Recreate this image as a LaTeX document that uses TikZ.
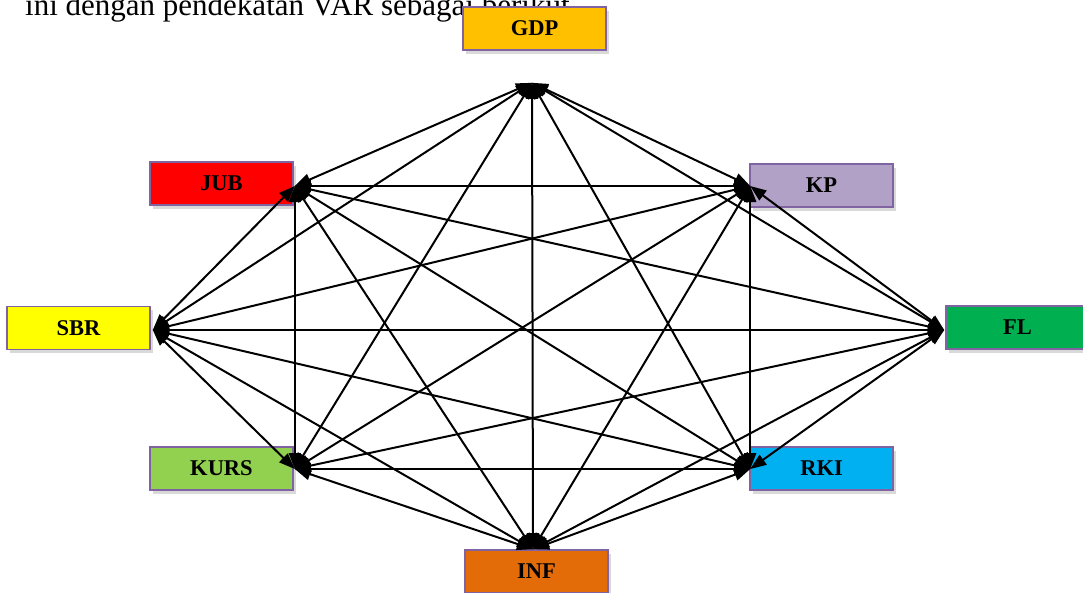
\documentclass[tikz,border=0pt]{standalone}
\usepackage{fontspec}
\setmainfont{Liberation Serif}
\usetikzlibrary{arrows.meta,calc,shadows}
\definecolor{boxline}{HTML}{8064A2}
\definecolor{gdpcol}{HTML}{FFC000}
\definecolor{jubcol}{HTML}{FF0000}
\definecolor{kpcol}{HTML}{B2A1C7}
\definecolor{sbrcol}{HTML}{FFFF00}
\definecolor{flcol}{HTML}{00B050}
\definecolor{kurscol}{HTML}{92D050}
\definecolor{rkicol}{HTML}{00B0F0}
\definecolor{infcol}{HTML}{E36C09}

\begin{document}
\begin{tikzpicture}[x=1pt, y=-1pt,
    var/.style={draw=boxline, line width=1.6pt, minimum width=143pt, minimum height=43pt,
      inner sep=0pt, font=\fontsize{22.5}{22.5}\selectfont\bfseries,
      drop shadow={shadow xshift=3pt, shadow yshift=-3.5pt, opacity=0.3}},
    link/.style={line width=2pt, {Triangle[length=16pt,width=12pt]}-{Triangle[length=16pt,width=12pt]}}]
  \useasboundingbox (0,0) rectangle (1083,592);
  \clip (0,0) rectangle (1083,592);
  % teks di atas
  \node[anchor=base west, inner sep=0pt, font=\fontsize{31}{31}\selectfont] (teks) at (25,15)
    {ini dengan pendekatan VAR sebagai berikut};
  % variabel
  \node[var, fill=gdpcol] (GDP) at (534.5,28.5) {GDP};
  \node[var, fill=jubcol] (JUB) at (221.5,183.5) {JUB};
  \node[var, fill=kpcol] (KP) at (821.5,185.5) {KP};
  \node[var, fill=sbrcol] (SBR) at (78.5,328) {SBR};
  \node[var, fill=flcol] (FL) at (1017.5,327.5) {FL};
  \node[var, fill=kurscol] (KURS) at (221.5,468.5) {KURS};
  \node[var, fill=rkicol] (RKI) at (821.5,468.5) {RKI};
  \node[var, fill=infcol] (INF) at (536.5,571.5) {INF};
  % titik ujung panah
  \coordinate (pGDP) at ($(GDP.south)+(-2.5,32)$);
  \coordinate (pJUB) at ($(JUB.east)+(1,2.5)$);
  \coordinate (pKP) at ($(KP.west)+(1,0.5)$);
  \coordinate (pSBR) at ($(SBR.east)+(2,2)$);
  \coordinate (pFL) at ($(FL.west)+(-1,2.5)$);
  \coordinate (pKURS) at ($(KURS.east)+(1,0.5)$);
  \coordinate (pRKI) at ($(RKI.west)+(1,0.5)$);
  \coordinate (pINF) at ($(INF.north)+(-3.5,0)$);
  % hubungan antar variabel
  \foreach \a/\b in {GDP/JUB, GDP/KP, GDP/SBR, GDP/FL, GDP/KURS, GDP/RKI, GDP/INF,
      JUB/KP, JUB/SBR, JUB/FL, JUB/KURS, JUB/RKI, JUB/INF,
      KP/SBR, KP/FL, KP/KURS, KP/RKI, KP/INF,
      SBR/FL, SBR/KURS, SBR/RKI, SBR/INF,
      FL/KURS, FL/RKI, FL/INF,
      KURS/RKI, KURS/INF, RKI/INF}
    \draw[link] (p\a) -- (p\b);
\end{tikzpicture}
\end{document}
